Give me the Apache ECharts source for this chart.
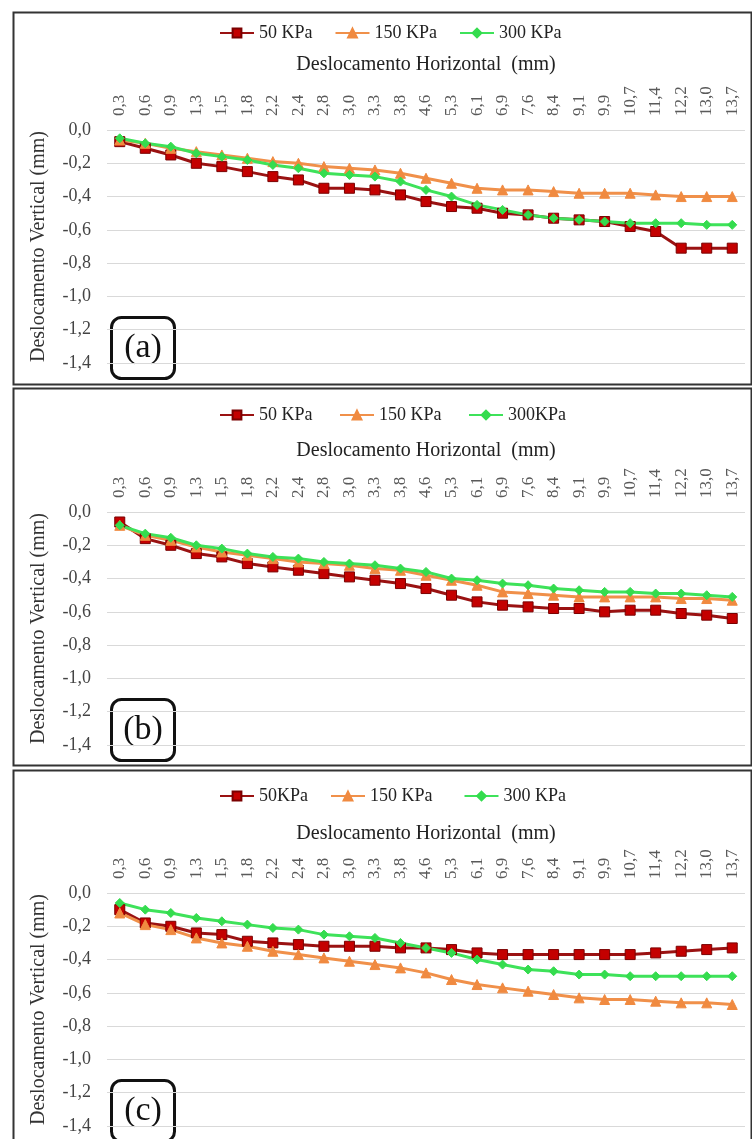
<!DOCTYPE html>
<html>
<head>
<meta charset="utf-8">
<script src="https://cdn.jsdelivr.net/npm/echarts@6/dist/echarts.min.js"></script>
<style>
  html, body { margin: 0; padding: 0; background: #fff; }
  #chart { width: 752px; height: 1139px; }
</style>
</head>
<body>
<div id="chart"></div>
<script>
// deslocamento horizontal (mm) - categorias do eixo x
const categories = ['0,3','0,6','0,9','1,3','1,5','1,8','2,2','2,4','2,8','3,0','3,3','3,8','4,6',
  '5,3','6,1','6,9','7,6','8,4','9,1','9,9','10,7','11,4','12,2','13,0','13,7'];

// painel (a)
const a50 = [-0.07,-0.11,-0.15,-0.20,-0.22,-0.25,-0.28,-0.30,-0.35,-0.35,-0.36,-0.39,-0.43,
  -0.46,-0.47,-0.50,-0.51,-0.53,-0.54,-0.55,-0.58,-0.61,-0.71,-0.71,-0.71];
const a150 = [-0.06,-0.08,-0.11,-0.13,-0.15,-0.17,-0.19,-0.20,-0.22,-0.23,-0.24,-0.26,-0.29,
  -0.32,-0.35,-0.36,-0.36,-0.37,-0.38,-0.38,-0.38,-0.39,-0.40,-0.40,-0.40];
const a300 = [-0.05,-0.08,-0.10,-0.14,-0.16,-0.18,-0.21,-0.23,-0.26,-0.27,-0.28,-0.31,-0.36,
  -0.40,-0.45,-0.48,-0.51,-0.53,-0.54,-0.55,-0.56,-0.56,-0.56,-0.57,-0.57];

// painel (b)
const b50 = [-0.06,-0.16,-0.20,-0.25,-0.27,-0.31,-0.33,-0.35,-0.37,-0.39,-0.41,-0.43,-0.46,
  -0.50,-0.54,-0.56,-0.57,-0.58,-0.58,-0.60,-0.59,-0.59,-0.61,-0.62,-0.64];
const b150 = [-0.08,-0.14,-0.17,-0.21,-0.24,-0.26,-0.28,-0.30,-0.31,-0.32,-0.34,-0.35,-0.38,
  -0.41,-0.44,-0.48,-0.49,-0.50,-0.51,-0.51,-0.51,-0.51,-0.52,-0.52,-0.53];
const b300 = [-0.08,-0.13,-0.155,-0.20,-0.22,-0.25,-0.27,-0.28,-0.30,-0.31,-0.32,-0.34,-0.36,
  -0.40,-0.41,-0.43,-0.44,-0.46,-0.47,-0.48,-0.48,-0.49,-0.49,-0.50,-0.51];

// painel (c)
const c50 = [-0.10,-0.18,-0.20,-0.24,-0.25,-0.29,-0.30,-0.31,-0.32,-0.32,-0.32,-0.33,-0.33,
  -0.34,-0.36,-0.37,-0.37,-0.37,-0.37,-0.37,-0.37,-0.36,-0.35,-0.34,-0.33];
const c150 = [-0.12,-0.19,-0.22,-0.27,-0.30,-0.32,-0.35,-0.37,-0.39,-0.41,-0.43,-0.45,-0.48,
  -0.52,-0.55,-0.57,-0.59,-0.61,-0.63,-0.64,-0.64,-0.65,-0.66,-0.66,-0.67];
const c300 = [-0.06,-0.10,-0.12,-0.15,-0.17,-0.19,-0.21,-0.22,-0.25,-0.26,-0.27,-0.30,-0.33,
  -0.36,-0.40,-0.43,-0.46,-0.47,-0.49,-0.49,-0.50,-0.50,-0.50,-0.50,-0.50];

const panelNames = [
  ['50 KPa', '150 KPa', '300 KPa'],
  ['50 KPa ', '150 KPa ', '300KPa'],
  ['50KPa', '150 KPa  ', '300 KPa  ']
];
const panelData = [[a50, a150, a300], [b50, b150, b300], [c50, c150, c300]];
const panelLabels = ['(a)', '(b)', '(c)'];

const FONT = '"Liberation Serif", "Times New Roman", serif';
const gridTops = [130, 512, 893];     // linha do 0,0 em cada painel
const nameGaps = [55, 51, 49];
const panelBoxes = [[10, 372], [386, 377], [768, 380]];

const styles = [
  { symbol: 'rect', symbolSize: 10, line: '#9a1212', fill: '#c40000', border: '#7a0000' },
  { symbol: 'triangle', symbolSize: 10, line: '#f0904a', fill: '#f08a40', border: '#f08a40' },
  { symbol: 'diamond', symbolSize: 9, line: '#3ee25a', fill: '#34dc4e', border: '#34dc4e' }
];

const chart = echarts.init(document.getElementById('chart'));

const grid = [], xAxis = [], yAxis = [], legend = [], series = [], graphic = [];

gridTops.forEach((top, p) => {
  grid.push({ left: 107, top: top, width: 638, height: 233 });

  xAxis.push({
    type: 'category',
    gridIndex: p,
    position: 'top',
    data: categories,
    name: 'Deslocamento Horizontal  (mm)',
    nameLocation: 'middle',
    nameGap: nameGaps[p],
    nameTextStyle: { fontFamily: FONT, fontSize: 20, color: '#222' },
    axisLine: { show: false },
    axisTick: { show: false },
    axisLabel: {
      interval: 0, rotate: 90, margin: 14,
      fontFamily: FONT, fontSize: 17, color: '#5a5a5a'
    }
  });

  yAxis.push({
    type: 'value',
    gridIndex: p,
    min: -1.4, max: 0, interval: 0.2,
    name: 'Deslocamento Vertical (mm)',
    nameLocation: 'middle',
    nameGap: 58,
    nameTextStyle: { fontFamily: FONT, fontSize: 20, color: '#333' },
    axisLine: { show: false },
    axisTick: { show: false },
    splitLine: { lineStyle: { color: '#d9d9d9', width: 1 } },
    axisLabel: {
      margin: 16, fontFamily: FONT, fontSize: 18, color: '#444',
      formatter: v => v.toFixed(1).replace('.', ',')
    }
  });

  legend.push({
    data: panelNames[p],
    top: top - 111,
    left: 214,
    itemWidth: 34, itemHeight: 11, itemGap: 22,
    textStyle: { fontFamily: FONT, fontSize: 18, color: '#222' }
  });

  panelData[p].forEach((vals, s) => {
    const st = styles[s];
    series.push({
      name: panelNames[p][s],
      type: 'line',
      xAxisIndex: p, yAxisIndex: p,
      data: vals,
      symbol: st.symbol,
      symbolSize: st.symbolSize,
      lineStyle: { color: st.line, width: 3 },
      itemStyle: { color: st.fill, borderColor: st.border, borderWidth: 1 },
      emphasis: { disabled: true },
      animation: false
    });
  });

  // moldura do painel
  const [by, bh] = panelBoxes[p];
  graphic.push({
    type: 'rect', left: 11, top: by, z: -1,
    shape: { width: 738, height: bh },
    style: { fill: 'none', stroke: '#333', lineWidth: 2 }
  });

  // caixa (a) (b) (c)
  graphic.push({
    type: 'group', left: 110, top: top + 186, z: 10,
    children: [
      { type: 'rect', shape: { x: 0, y: 0, width: 63, height: 61, r: 10 },
        style: { fill: '#fff', stroke: '#111', lineWidth: 3 } },
      { type: 'text', x: 31.5, y: 31, style: {
          text: panelLabels[p], fontFamily: FONT, fontSize: 34, fill: '#111',
          align: 'center', verticalAlign: 'middle' } }
    ]
  });
});

chart.setOption({
  backgroundColor: '#fff',
  animation: false,
  grid, xAxis, yAxis, legend, series, graphic
});
</script>
</body>
</html>
